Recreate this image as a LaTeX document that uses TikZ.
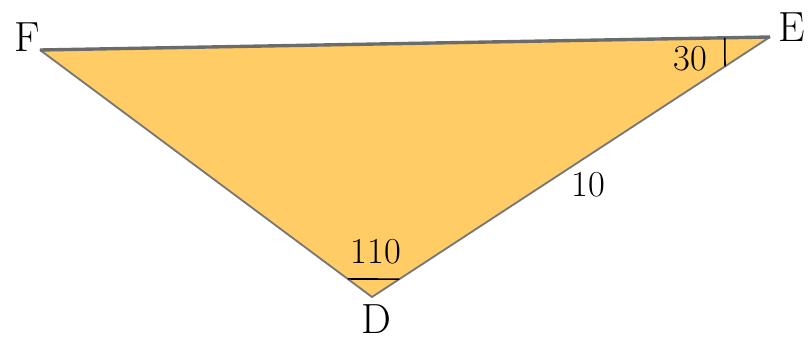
\documentclass[tikz,border=0pt]{standalone}
\usepackage{tikz}
\usetikzlibrary{calc}
\definecolor{trifill}{HTML}{FFCC66}
\definecolor{edgegray}{HTML}{777777}

\begin{document}
\begin{tikzpicture}[
    x=0.025cm, y=-0.025cm,
    side/.style={draw=edgegray, line width=1.3pt, line join=miter},
    anglemark/.style={draw=black, line width=1.1pt},
    vertex/.style={font=\fontsize{30}{30}\selectfont, inner sep=0pt},
    num/.style={font=\fontsize{26}{26}\selectfont, inner sep=0pt}
]
\useasboundingbox (0,0) rectangle (808,347);

% Vertices
\coordinate (F) at (40, 50);
\coordinate (E) at (770, 37);
\coordinate (D) at (372, 297);

% Triangle
\fill[trifill] (F) -- (E) -- (D) -- cycle;
\draw[side] (F) -- (D) -- (E);
\draw[side, line width=2.4pt, draw=edgegray!90!black] (F) -- (E);

% Angle marks
\draw[anglemark] ($(E)!0.062!(F)$) -- ($(E)!0.113!(D)$);
\draw[anglemark] ($(D)!0.073!(F)$) -- ($(D)!0.069!(E)$);

% Vertex labels
\node[vertex] (lF) at (27, 37) {F};
\node[vertex] (lE) at (792, 27) {E};
\node[vertex] (lD) at (376, 319) {D};

% Measures
\node[num] (aE) at (690, 59) {30};
\node[num] (aD) at (376, 252) {110};
\node[num] (sDE) at (588, 185) {10};

\end{tikzpicture}
\end{document}
